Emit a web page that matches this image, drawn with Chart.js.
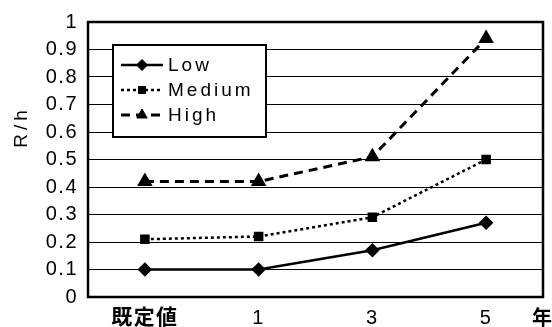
<!DOCTYPE html>
<html><head><meta charset="utf-8">
<script src="https://cdn.jsdelivr.net/npm/chart.js@4"></script>
<style>html,body{margin:0;padding:0;background:#fff}#wrap{width:552px;height:327px}</style>
</head><body><div id="wrap"><canvas id="c" width="552" height="327"></canvas></div>
<script>
const categories = ['既定値', '1', '3', '5'];
const lowValues = [0.10, 0.10, 0.17, 0.27];
const mediumValues = [0.21, 0.22, 0.29, 0.50];
const highValues = [0.42, 0.42, 0.51, 0.94];
const seriesNames = ['Low', 'Medium', 'High'];
const yTitle = 'R/h';
const xUnit = '年';

const FONT = "'Liberation Sans', Arial, sans-serif";

const legendPlugin = {
  id: 'boxLegend',
  beforeDraw(chart) {
    try { chart.ctx.letterSpacing = '1.5px'; } catch (e) {}
  },
  afterDatasetsDraw(chart) {
    const ctx = chart.ctx;
    const ca = chart.chartArea;
    ctx.save();
    ctx.strokeStyle = '#000'; ctx.lineWidth = 2.5; ctx.setLineDash([]);
    ctx.strokeRect(ca.left, ca.top, ca.right - ca.left, ca.bottom - ca.top);
    const bx = 113, by = 45, bw = 153, bh = 92;
    ctx.fillStyle = '#fff'; ctx.fillRect(bx, by, bw, bh);
    ctx.lineWidth = 2; ctx.strokeRect(bx, by, bw, bh);
    const rows = [65, 90, 115];
    chart.data.datasets.forEach((ds, i) => {
      const y = rows[i];
      ctx.strokeStyle = '#000'; ctx.fillStyle = '#000'; ctx.lineWidth = ds.borderWidth;
      ctx.setLineDash(ds.borderDash || []);
      ctx.beginPath(); ctx.moveTo(121, y); ctx.lineTo(163, y); ctx.stroke();
      ctx.setLineDash([]);
      ctx.lineWidth = 1;
      Chart.helpers.drawPoint(ctx, {pointStyle: ds.pointStyle, radius: ds.pointRadius, borderWidth: 1}, 142, y);
      ctx.fillStyle = '#000';
      ctx.font = '19px ' + FONT;
      ctx.textBaseline = 'middle'; ctx.textAlign = 'left';
      try { ctx.letterSpacing = '3px'; } catch (e) {}
      ctx.fillText(ds.label, 168, y + 1);
    });
    // y title
    ctx.save();
    ctx.translate(22, 129);
    ctx.rotate(-Math.PI / 2);
    ctx.font = '19px ' + FONT;
    ctx.textAlign = 'center'; ctx.textBaseline = 'middle';
    try { ctx.letterSpacing = '4px'; } catch (e) {}
    ctx.fillText(yTitle, 2, 0);
    ctx.restore();
    // unit label
    try { ctx.letterSpacing = '0px'; } catch (e) {}
    ctx.font = 'bold 20px "Noto Sans CJK JP", sans-serif';
    ctx.textAlign = 'center'; ctx.textBaseline = 'middle';
    ctx.fillText(xUnit, 542, 317);
    ctx.restore();
  },
  afterDraw(chart) {
    try { chart.ctx.letterSpacing = '0px'; } catch (e) {}
  }
};

function mk(label, data, dash, style, radius, width) {
  return {label, data, borderColor: '#000', backgroundColor: '#000', borderWidth: width,
    borderDash: dash, pointStyle: style, pointRadius: radius, pointHoverRadius: radius,
    pointBackgroundColor: '#000', pointBorderColor: '#000', tension: 0, fill: false};
}

new Chart(document.getElementById('c'), {
  type: 'line',
  data: {
    labels: categories,
    datasets: [
      mk(seriesNames[0], lowValues, [], 'rectRot', 5.5, 2.5),
      mk(seriesNames[1], mediumValues, [3, 3], 'rect', 5, 2.5),
      mk(seriesNames[2], highValues, [9, 6], 'triangle', 6, 3)
    ]
  },
  options: {
    responsive: false, animation: false, devicePixelRatio: 1,
    layout: {padding: {left: 0, right: 8, top: 20, bottom: 0}},
    plugins: {legend: {display: false}, tooltip: {enabled: false}},
    scales: {
      x: {
        offset: true,
        grid: {display: false, drawTicks: false},
        border: {display: false},
        ticks: {color: '#000', padding: 9, maxRotation: 0, autoSkip: false,
          font: c => ({family: "'Liberation Sans', 'Noto Sans CJK JP', sans-serif", size: c.index === 0 ? 21 : 20, weight: c.index === 0 ? 'bold' : 'normal'})},
        afterFit(s) { s.height = 30; }
      },
      y: {
        min: 0, max: 1,
        grid: {color: '#000', lineWidth: 1, drawTicks: false},
        border: {display: false},
        ticks: {stepSize: 0.1, color: '#000', padding: 10, autoSkip: false,
          font: {family: FONT, size: 20},
          callback: v => (Math.round(v * 10) / 10).toString()},
        title: {display: false},
        afterFit(s) { s.width = 88; }
      }
    }
  },
  plugins: [legendPlugin]
});
</script></body></html>
